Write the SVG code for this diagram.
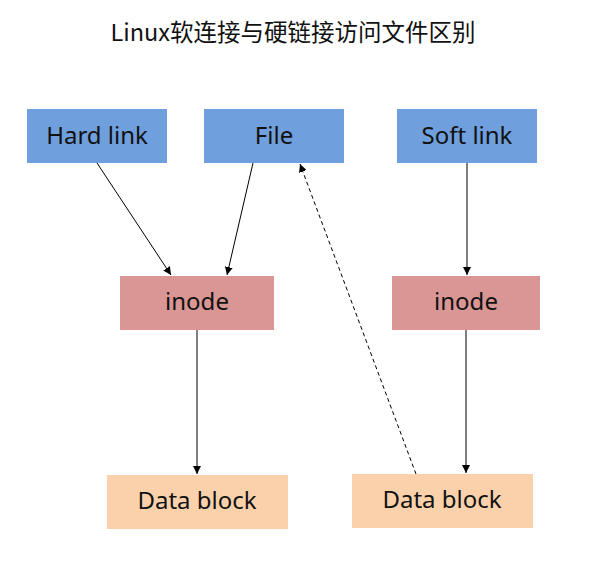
<svg xmlns="http://www.w3.org/2000/svg" width="600" height="576" viewBox="0 0 600 576">
<style>
.lbl{font-family:"Noto Sans","Open Sans",sans-serif;font-size:24px;fill:#111;text-anchor:middle;dominant-baseline:central}
.blue{fill:#6f9fdc}
.pink{fill:#d99694}
.peach{fill:#fbd1ab}
.c{stroke:#000;stroke-width:1;fill:none;marker-end:url(#ah)}
</style>
<defs>
<marker id="ah" viewBox="0 0 10 10" refX="10" refY="5" markerWidth="8" markerHeight="8" markerUnits="userSpaceOnUse" orient="auto">
<path d="M0,0 L10,5 L0,10 z" fill="#000"/>
</marker>
</defs>
<rect width="600" height="576" fill="#fff"/>
<text x="293" y="31" font-family="Noto Sans CJK SC,sans-serif" font-size="23.5" fill="#111" text-anchor="middle" dominant-baseline="central">Linux软连接与硬链接访问文件区别</text>
<g id="hardlink"><rect class="blue" x="27" y="109" width="140" height="54"/><text class="lbl" x="97" y="134">Hard link</text></g>
<g id="file"><rect class="blue" x="204" y="109" width="140" height="54"/><text class="lbl" x="274" y="134">File</text></g>
<g id="softlink"><rect class="blue" x="397" y="109" width="140" height="54"/><text class="lbl" x="467" y="134">Soft link</text></g>
<g id="inode1"><rect class="pink" x="120" y="276" width="154" height="54"/><text class="lbl" x="197" y="300">inode</text></g>
<g id="inode2"><rect class="pink" x="392" y="276" width="148" height="54"/><text class="lbl" x="466" y="300">inode</text></g>
<g id="data1"><rect class="peach" x="107" y="475" width="181" height="54"/><text class="lbl" x="197" y="499">Data block</text></g>
<g id="data2"><rect class="peach" x="352" y="474" width="181" height="54"/><text class="lbl" x="442" y="498">Data block</text></g>
<g id="connectors">
<line class="c" x1="97" y1="163" x2="171" y2="275"/>
<line class="c" x1="253" y1="163" x2="227" y2="275"/>
<line class="c" x1="467" y1="163" x2="467" y2="275"/>
<line class="c" x1="197" y1="330" x2="197" y2="474"/>
<line class="c" x1="466" y1="330" x2="466" y2="473"/>
<line class="c" x1="416" y1="474" x2="300" y2="164" stroke-dasharray="4,3"/>
</g>
</svg>
